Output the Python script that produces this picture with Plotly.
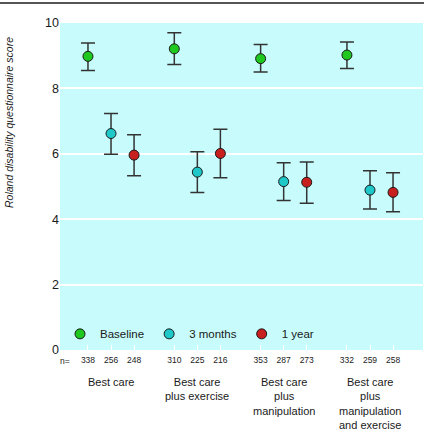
import plotly.graph_objects as go

groups = ["Best care", "Best care<br>plus exercise", "Best care<br>plus<br>manipulation",
          "Best care<br>plus<br>manipulation<br>and exercise"]
series = ["Baseline", "3 months", "1 year"]
colors = ["#1fc81f", "#1fc8c8", "#c81f1f"]

means = {
    "Baseline": [8.98, 9.21, 8.91, 9.02],
    "3 months": [6.62, 5.44, 5.15, 4.89],
    "1 year":   [5.96, 6.01, 5.13, 4.82],
}
upper = {
    "Baseline": [9.39, 9.70, 9.34, 9.42],
    "3 months": [7.23, 6.06, 5.73, 5.48],
    "1 year":   [6.58, 6.75, 5.75, 5.42],
}
lower = {
    "Baseline": [8.55, 8.73, 8.50, 8.61],
    "3 months": [5.99, 4.82, 4.57, 4.31],
    "1 year":   [5.33, 5.27, 4.49, 4.23],
}
n_values = {
    "Baseline": [338, 310, 353, 332],
    "3 months": [256, 225, 287, 259],
    "1 year":   [248, 216, 273, 258],
}
yticks = [0, 2, 4, 6, 8, 10]

W, H = 424, 432
PL, PT, PW, PH = 60, 23, 363, 327  # plot area in page pixels

offset = 0.267
fig = go.Figure()
tickvals, ticktext = [], []
for si, s in enumerate(series):
    xs = [g + (si - 1) * offset for g in range(len(groups))]
    m = means[s]
    fig.add_trace(go.Scatter(
        x=xs, y=m, mode="markers", name=s,
        marker=dict(color=colors[si], size=10, line=dict(color="#1a1a1a", width=1)),
        error_y=dict(type="data", symmetric=False,
                     array=[u - v for u, v in zip(upper[s], m)],
                     arrayminus=[v - l for v, l in zip(m, lower[s])],
                     color="#333333", thickness=1.5, width=7),
    ))
    tickvals += xs
    ticktext += [str(v) for v in n_values[s]]

font = "Liberation Sans, Arial, sans-serif"
fig.update_layout(
    width=W, height=H,
    margin=dict(l=PL, r=W - PL - PW, t=PT, b=H - PT - PH),
    paper_bgcolor="white", plot_bgcolor="#c8fcfc",
    font=dict(family=font, color="#1a1a1a", size=12),
    showlegend=True,
    legend=dict(orientation="h", x=0.0, y=0.005, xanchor="left", yanchor="bottom",
                bgcolor="rgba(0,0,0,0)", font=dict(size=11.5), itemclick=False),
    xaxis=dict(range=[-0.591, 3.614], showgrid=False, zeroline=False,
               tickvals=tickvals, ticktext=ticktext, tickfont=dict(size=8.5),
               ticks="inside", ticklen=5, tickcolor="white", tickwidth=1, showline=False,
               ticklabelstandoff=3, fixedrange=True),
    yaxis=dict(range=[0, 10], tickvals=yticks, showgrid=True, gridcolor="white", gridwidth=2,
               zeroline=False, showline=False, ticks="", tickfont=dict(size=12.5)),
)

fig.add_annotation(text="Roland disability questionnaire score", textangle=-90,
                   xref="paper", yref="paper", x=(9 - PL) / PW, y=(PT + PH - 123) / PH,
                   xanchor="center", yanchor="middle", showarrow=False,
                   font=dict(size=10.5, style="italic"))

fig.add_shape(type="line", xref="paper", yref="paper", layer="above",
              x0=-PL / PW, x1=1 + 1 / PW, y0=1 + 20 / PH, y1=1 + 20 / PH,
              line=dict(color="#555555", width=2))

fig.add_annotation(text="n=", xref="paper", yref="paper", x=(65 - PL) / PW, y=-11 / PH,
                   xanchor="center", yanchor="middle", showarrow=False, font=dict(size=8.5))
for gi, g in enumerate(groups):
    fig.add_annotation(text=g, x=gi, xref="x", yref="paper", y=-24 / PH,
                       xanchor="center", yanchor="top", showarrow=False,
                       font=dict(size=11))

fig.write_html("out.html", config={"displayModeBar": False},
               post_script="document.body.style.margin='0';")
